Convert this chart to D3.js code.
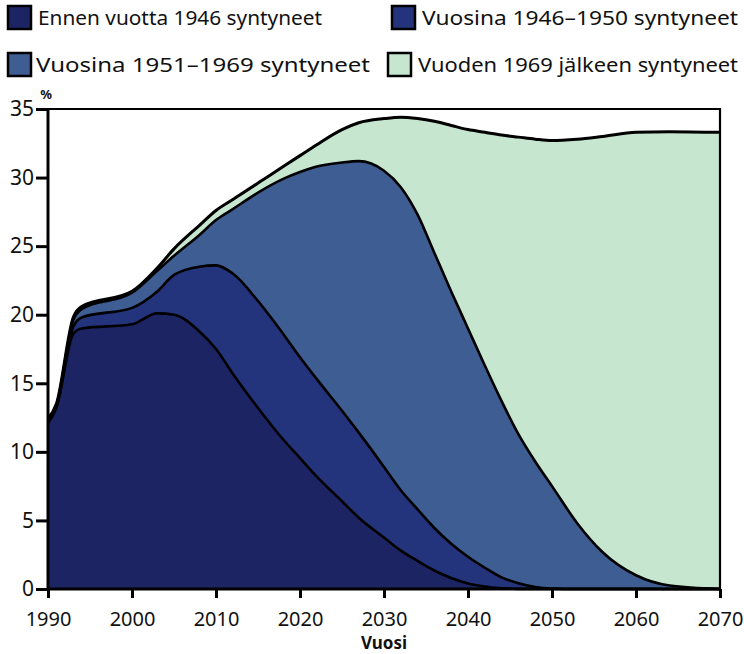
<!DOCTYPE html>
<html>
<head>
<meta charset="utf-8">
<script src="https://cdn.jsdelivr.net/npm/d3@7"></script>
<style>
  body { margin: 0; background: #fff; }
  svg text { font-family: "Noto Sans", "DejaVu Sans", sans-serif; fill: #111; }
</style>
</head>
<body>
<div id="chart"></div>
<script>
const years = [1990, 1991, 1993, 1994, 2000, 2003, 2005, 2008, 2010, 2012, 2015, 2018,
    2020, 2022, 2025, 2027, 2030, 2032, 2034, 2036, 2038, 2040, 2042, 2044, 2046, 2048,
    2050, 2053, 2056, 2060, 2064, 2070];

const seriesNames = ["Ennen vuotta 1946 syntyneet", "Vuosina 1946\u20131950 syntyneet",
    "Vuosina 1951\u20131969 syntyneet", "Vuoden 1969 j\u00e4lkeen syntyneet"];

// share of population (%) per cohort
const before1946 = [12.1, 13.2, 18.6, 19.0, 19.3, 20.1, 20.0, 18.8, 17.5, 15.7, 13.2, 10.9,
    9.55, 8.2, 6.4, 5.2, 3.75, 2.8, 2.05, 1.35, 0.8, 0.4, 0.18, 0.06, 0.01, 0,
    0, 0, 0, 0, 0, 0];
const from1946to1950 = [0.1, 0.1, 0.5, 0.8, 1.2, 1.6, 2.9, 4.7, 6.1, 7.3, 7.8, 7.7,
    7.35, 7.1, 6.6, 6.2, 5.15, 4.4, 3.75, 3.1, 2.5, 1.95, 1.37, 0.79, 0.41, 0.15,
    0.04, 0, 0, 0, 0, 0];
const from1951to1969 = [0.1, 0.1, 0.5, 0.6, 1.1, 1.5, 1.4, 2.3, 3.3, 4.7, 7.9, 11.3,
    13.5, 15.5, 18.1, 19.8, 21.6, 22.1, 21.5, 20.05, 18.4, 16.65, 14.75, 12.85, 10.88, 9.15,
    7.46, 4.8, 2.7, 1.0, 0.25, 0];
const after1969 = [0.1, 0.1, 0.2, 0.2, 0.1, 0.2, 0.5, 0.7, 0.7, 0.7, 0.7, 0.9,
    1.2, 1.6, 2.4, 2.8, 3.8, 5.1, 7.0, 9.6, 12.1, 14.5, 17.0, 19.4, 21.65, 23.5,
    25.2, 28.0, 30.3, 32.3, 33.1, 33.3];

const xTicks = [1990, 2000, 2010, 2020, 2030, 2040, 2050, 2060, 2070];
const yTicks = [0, 5, 10, 15, 20, 25, 30, 35];

const colors = ["#1c2464", "#23347c", "#3e5d92", "#c6e6d0"];

const width = 744, height = 654;
const margin = {top: 109, right: 24, bottom: 65, left: 48};

const svg = d3.select("#chart").append("svg")
    .attr("width", width).attr("height", height);

const x = d3.scaleLinear().domain([1990, 2070]).range([margin.left, width - margin.right]);
const y = d3.scaleLinear().domain([0, 35]).range([height - margin.bottom, margin.top]);

const rows = years.map((yr, i) => ({
    year: yr,
    s0: before1946[i], s1: from1946to1950[i], s2: from1951to1969[i], s3: after1969[i]
}));
const stacked = d3.stack().keys(["s0", "s1", "s2", "s3"])(rows);

const area = d3.area()
    .x(d => x(d.data.year)).y0(d => y(d[0])).y1(d => y(d[1]))
    .curve(d3.curveMonotoneX);
const topLine = d3.line()
    .x(d => x(d.data.year)).y(d => y(d[1]))
    .curve(d3.curveMonotoneX);

svg.append("g").selectAll("path.layer")
    .data(stacked).enter().append("path")
    .attr("class", "layer")
    .attr("d", area)
    .attr("fill", (d, i) => colors[i]);

svg.append("g").selectAll("path.edge")
    .data(stacked).enter().append("path")
    .attr("class", "edge")
    .attr("d", topLine)
    .attr("fill", "none")
    .attr("stroke", "#000")
    .attr("stroke-width", (d, i) => i === 3 ? 3 : 2.6)
    .attr("stroke-linejoin", "round");

// frame
svg.append("path")
    .attr("d", `M${x(1990)},${y(35)}H${x(2070)}V${y(0)}`)
    .attr("fill", "none").attr("stroke", "#000").attr("stroke-width", 2.2);

// axes
const yAxis = svg.append("g")
    .attr("transform", `translate(${margin.left},0)`)
    .call(d3.axisLeft(y).tickValues(yTicks).tickSize(12).tickPadding(2).tickFormat(d3.format("d")));
const xAxis = svg.append("g")
    .attr("transform", `translate(0,${height - margin.bottom})`)
    .call(d3.axisBottom(x).tickValues(xTicks).tickSize(9).tickPadding(14).tickFormat(d3.format("d")));

[yAxis, xAxis].forEach(g => {
    g.select(".domain").attr("stroke", "#000").attr("stroke-width", 3);
    g.selectAll(".tick line").attr("stroke", "#000").attr("stroke-width", 3);
    g.selectAll(".tick text").attr("fill", "#111")
        .attr("font-family", "\"Noto Sans\", sans-serif");
});
yAxis.selectAll(".tick text").attr("font-size", 21);
xAxis.selectAll(".tick text").attr("font-size", 20);
xAxis.select(".domain").attr("d", `M${x(1990)},0H${x(2070)}`);
yAxis.select(".domain").attr("d", `M0,${y(0)}V${y(35)}`);

svg.append("text")
    .attr("x", 384).attr("y", 649)
    .attr("text-anchor", "middle").attr("font-size", 17).attr("font-weight", "bold")
    .text("Vuosi");

svg.append("text")
    .attr("x", x(1990) - 2).attr("y", 99)
    .attr("text-anchor", "middle").attr("font-size", 13).attr("font-weight", "bold")
    .text("%");

// legend
const legendPos = [[8, 6], [392, 6], [8, 53], [388, 53]];
const legendTextW = [284, 316, 334, 320];
const legend = svg.append("g").selectAll("g")
    .data(seriesNames).enter().append("g")
    .attr("transform", (d, i) => `translate(${legendPos[i][0]},${legendPos[i][1]})`);
legend.append("rect")
    .attr("width", 23).attr("height", 23)
    .attr("fill", (d, i) => colors[i])
    .attr("stroke", "#000").attr("stroke-width", 2.5);
legend.append("text")
    .attr("x", (d, i) => i === 2 ? 28 : 30).attr("y", 19)
    .attr("font-size", 20)
    .attr("textLength", (d, i) => legendTextW[i])
    .attr("lengthAdjust", "spacingAndGlyphs")
    .text(d => d);
</script>
</body>
</html>
